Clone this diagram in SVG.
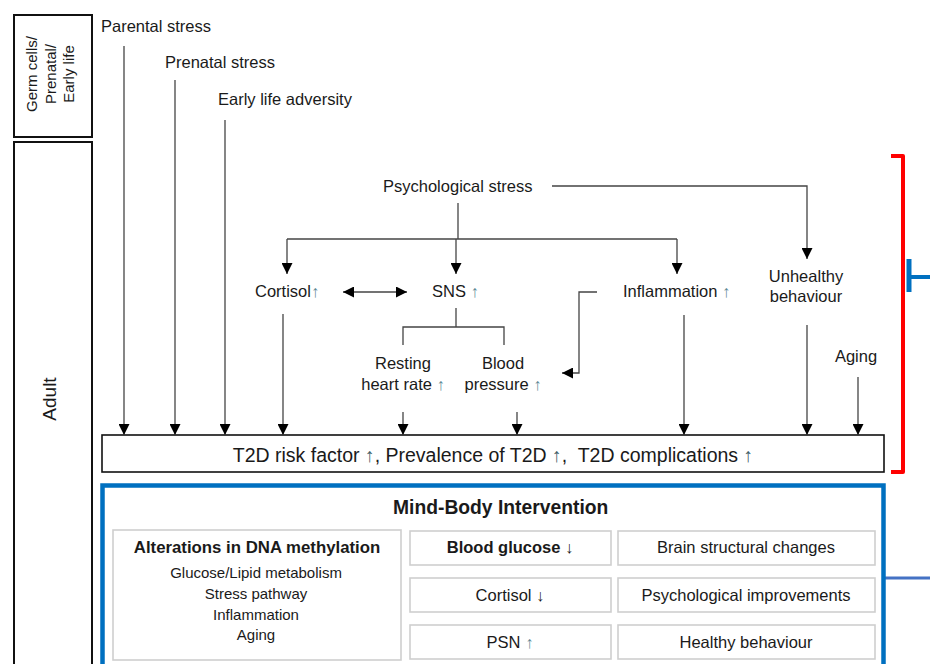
<svg xmlns="http://www.w3.org/2000/svg" width="930" height="664" viewBox="0 0 930 664">
<style>
text{font-family:"Liberation Sans",Arial,sans-serif;fill:#1a1a1a}
.lb{font-size:16.5px}
.sm{font-size:15px}
.c{text-anchor:middle}
.b{font-weight:bold}
.up{fill:#5f8a96}
.dk{fill:#3f6068}
.ln{stroke:#444;stroke-width:1.3;fill:none}
.frame{fill:#fff;stroke:#111;stroke-width:2}
.ib{fill:#fff;stroke:#cfcfcf;stroke-width:1.6}
</style>
<defs>
<marker id="ah" markerUnits="userSpaceOnUse" markerWidth="11" markerHeight="11" refX="11" refY="5.5" orient="auto">
<path d="M0,0 L11,5.5 L0,11 Z" fill="#000"/>
</marker>
<marker id="as" markerUnits="userSpaceOnUse" markerWidth="11" markerHeight="11" refX="0" refY="5.5" orient="auto">
<path d="M11,0 L0,5.5 L11,11 Z" fill="#000"/>
</marker>
</defs>
<rect width="930" height="664" fill="#fff"/>

<g id="stage-germ">
<rect class="frame" x="14" y="15" width="78" height="122"/>
<g transform="translate(37,74) rotate(-90)"><text class="sm c" x="0" y="0">Germ cells/</text></g>
<g transform="translate(56,74) rotate(-90)"><text class="sm c" x="0" y="0">Prenatal/</text></g>
<g transform="translate(74,74) rotate(-90)"><text class="sm c" x="0" y="0">Early life</text></g>
</g>
<g id="stage-adult">
<rect class="frame" x="14" y="142" width="78" height="540"/>
<g transform="translate(56,399) rotate(-90)"><text class="c" style="font-size:19px" x="0" y="0">Adult</text></g>
</g>

<g id="n-parental"><text class="lb" x="101" y="32">Parental stress</text></g>
<g id="n-prenatal"><text class="lb" x="165" y="68">Prenatal stress</text></g>
<g id="n-early"><text class="lb" x="218" y="105">Early life adversity</text></g>
<g id="n-psych"><text class="lb" x="383" y="192">Psychological stress</text></g>
<g id="n-cortisol"><text class="lb" x="255" y="297">Cortisol<tspan class="up">↑</tspan></text></g>
<g id="n-sns"><text class="lb" x="432" y="297">SNS <tspan class="up">↑</tspan></text></g>
<g id="n-inflam"><text class="lb" x="623" y="297">Inflammation <tspan class="up">↑</tspan></text></g>
<g id="n-unhealthy"><text class="lb c" x="806" y="282">Unhealthy</text><text class="lb c" x="806" y="302">behaviour</text></g>
<g id="n-resting"><text class="lb c" x="403" y="369">Resting</text><text class="lb c" x="403" y="390">heart rate <tspan class="up">↑</tspan></text></g>
<g id="n-bp"><text class="lb c" x="503" y="369">Blood</text><text class="lb c" x="503" y="390">pressure <tspan class="up">↑</tspan></text></g>
<g id="n-aging"><text class="lb c" x="856" y="362">Aging</text></g>

<g id="n-t2d">
<rect x="102" y="435" width="782" height="37" fill="#fff" stroke="#111" stroke-width="1.6"/>
<text x="493" y="462" style="font-size:19.5px" class="c">T2D risk factor <tspan class="dk">↑</tspan>, Prevalence of T2D <tspan class="dk">↑</tspan>,&#160; T2D complications <tspan class="dk">↑</tspan></text>
</g>

<g id="connectors">
<line class="ln" x1="124" y1="46" x2="124" y2="435" marker-end="url(#ah)"/>
<line class="ln" x1="175" y1="80" x2="175" y2="435" marker-end="url(#ah)"/>
<line class="ln" x1="225" y1="120" x2="225" y2="435" marker-end="url(#ah)"/>
<polyline class="ln" points="552,186 807,186 807,259" marker-end="url(#ah)"/>
<line class="ln" x1="458" y1="203" x2="458" y2="239"/>
<line class="ln" x1="287" y1="239" x2="677" y2="239"/>
<line class="ln" x1="287" y1="239" x2="287" y2="274" marker-end="url(#ah)"/>
<line class="ln" x1="456" y1="239" x2="456" y2="274" marker-end="url(#ah)"/>
<line class="ln" x1="677" y1="239" x2="677" y2="274" marker-end="url(#ah)"/>
<line class="ln" x1="343" y1="292" x2="407" y2="292" marker-start="url(#as)" marker-end="url(#ah)"/>
<polyline class="ln" points="456,308 456,327"/>
<polyline class="ln" points="403,345 403,327 504,327 504,345"/>
<polyline class="ln" points="597,292 579,292 579,373 562,373" marker-end="url(#ah)"/>
<line class="ln" x1="283" y1="314" x2="283" y2="435" marker-end="url(#ah)"/>
<line class="ln" x1="403" y1="412" x2="403" y2="435" marker-end="url(#ah)"/>
<line class="ln" x1="517" y1="412" x2="517" y2="435" marker-end="url(#ah)"/>
<line class="ln" x1="684" y1="315" x2="684" y2="435" marker-end="url(#ah)"/>
<line class="ln" x1="807" y1="325" x2="807" y2="435" marker-end="url(#ah)"/>
<line class="ln" x1="858" y1="377" x2="858" y2="435" marker-end="url(#ah)"/>
<path d="M891,156 L903,156 L903,472 L891,472" fill="none" stroke="#f00" stroke-width="4" stroke-linejoin="round"/>
<line x1="909" y1="259" x2="909" y2="292" stroke="#0070c0" stroke-width="5"/>
<line x1="909" y1="277" x2="930" y2="277" stroke="#0070c0" stroke-width="4"/>
<line x1="885" y1="578" x2="930" y2="578" stroke="#4472c4" stroke-width="3"/>
</g>

<g id="n-intervention">
<rect x="102.5" y="485.5" width="781" height="220" fill="#fff" stroke="#0070c0" stroke-width="4.5"/>
<text class="b" x="393" y="514" style="font-size:19.3px">Mind-Body Intervention</text>
</g>
<g id="n-dna">
<rect class="ib" x="113" y="530" width="288" height="130"/>
<text class="b c" style="font-size:16.8px" x="257" y="553">Alterations in DNA methylation</text>
<text class="sm c" x="256" y="578">Glucose/Lipid metabolism</text>
<text class="sm c" x="256" y="599">Stress pathway</text>
<text class="sm c" x="256" y="620">Inflammation</text>
<text class="sm c" x="256" y="640">Aging</text>
</g>
<g id="n-glucose"><rect class="ib" x="410" y="531" width="201" height="34"/><text class="lb b c" x="510" y="553">Blood glucose ↓</text></g>
<g id="n-cort2"><rect class="ib" x="410" y="578" width="201" height="34"/><text class="lb c" x="510" y="601">Cortisol ↓</text></g>
<g id="n-psn"><rect class="ib" x="410" y="625" width="201" height="34"/><text class="lb c" x="510" y="648">PSN <tspan class="up">↑</tspan></text></g>
<g id="n-brain"><rect class="ib" x="618" y="531" width="257" height="34"/><text class="lb c" x="746" y="553">Brain structural changes</text></g>
<g id="n-psyimp"><rect class="ib" x="618" y="578" width="257" height="34"/><text class="lb c" x="746" y="601">Psychological improvements</text></g>
<g id="n-healthy"><rect class="ib" x="618" y="625" width="257" height="34"/><text class="lb c" x="746" y="648">Healthy behaviour</text></g>
</svg>
